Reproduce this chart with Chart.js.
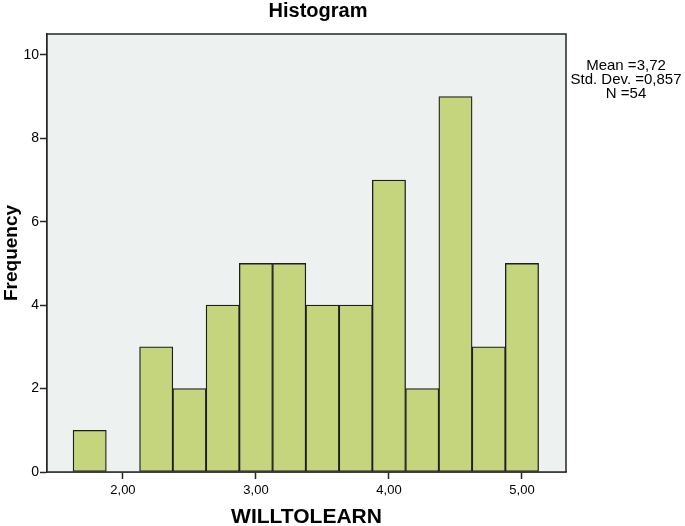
<!DOCTYPE html>
<html>
<head>
<meta charset="utf-8">
<script src="https://cdn.jsdelivr.net/npm/chart.js@4"></script>
<style>
  html, body { margin: 0; padding: 0; background: #ffffff; }
  #wrap { position: relative; width: 685px; height: 526px; }
</style>
</head>
<body>
<div id="wrap"><canvas id="c" width="685" height="526"></canvas></div>
<script>
// Data (bin centers, width 0.25)
const binCenters = [1.75, 2.00, 2.25, 2.50, 2.75, 3.00, 3.25, 3.50, 3.75, 4.00, 4.25, 4.50, 4.75, 5.00];
const frequencies = [1, 0, 3, 2, 4, 5, 5, 4, 4, 7, 2, 9, 3, 5];
const xTickValues = [2, 3, 4, 5];
const yTickValues = [0, 2, 4, 6, 8, 10];
const statsLines = ["Mean =3,72", "Std. Dev. =0,857", "N =54"];
const titleText = "Histogram";
const xTitle = "WILLTOLEARN";
const yTitle = "Frequency";

const FONT = "'Liberation Sans', Arial, Helvetica, sans-serif";

const decor = {
  id: 'decor',
  beforeDatasetsDraw(chart) {
    const { ctx, chartArea: a } = chart;
    ctx.save();
    ctx.fillStyle = '#edf1f0';
    ctx.fillRect(a.left, a.top, a.right - a.left, a.bottom - a.top);
    ctx.restore();
  },
  afterDraw(chart) {
    const { ctx, chartArea: a } = chart;
    ctx.save();
    ctx.strokeStyle = '#262626';
    ctx.lineWidth = 1.5;
    ctx.strokeRect(a.left, a.top, a.right - a.left, a.bottom - a.top);
    // title
    ctx.fillStyle = '#000';
    ctx.textAlign = 'center';
    ctx.textBaseline = 'middle';
    ctx.font = "bold 20px " + FONT;
    ctx.fillText(titleText, 318, 11);
    // stats
    ctx.font = "15px " + FONT;
    statsLines.forEach((s, i) => ctx.fillText(s, 626, 66 + i * 14));
    ctx.restore();
  }
};

const data = binCenters.map((x, i) => ({ x: x, y: frequencies[i] }));

new Chart(document.getElementById('c'), {
  type: 'bar',
  data: {
    datasets: [{
      data: data,
      backgroundColor: '#c4d57d',
      borderColor: '#1e1e1e',
      borderWidth: 1.3,
      borderSkipped: false,
      barPercentage: 1.0,
      categoryPercentage: 1.0
    }]
  },
  options: {
    responsive: false,
    animation: false,
    devicePixelRatio: 1,
    layout: { padding: { top: 34, right: 119, left: 0, bottom: 0 } },
    plugins: { legend: { display: false }, tooltip: { enabled: false }, title: { display: false } },
    scales: {
      x: {
        type: 'linear',
        min: 1.429,
        max: 5.331,
        offset: false,
        afterBuildTicks(scale) { scale.ticks = xTickValues.map(v => ({ value: v })); },
        afterFit(scale) { scale.height = 54; },
        ticks: {
          color: '#000',
          font: { family: FONT, size: 13 },
          padding: 4,
          maxRotation: 0,
          callback: v => v.toFixed(2).replace('.', ',')
        },
        grid: { offset: false, drawOnChartArea: false, drawTicks: true, tickLength: 7, tickColor: '#262626', tickWidth: 1.5 },
        border: { display: true, color: '#262626', width: 1.5 },
        title: {
          display: true, text: xTitle, color: '#000',
          font: { family: FONT, size: 21, weight: 'bold' },
          padding: { top: 0, bottom: -4 }
        }
      },
      y: {
        min: 0,
        max: 10.5,
        afterBuildTicks(scale) { scale.ticks = yTickValues.map(v => ({ value: v })); },
        afterFit(scale) { scale.width = 47; },
        ticks: {
          color: '#000',
          font: { family: FONT, size: 14 },
          padding: 1
        },
        grid: { offset: false, drawOnChartArea: false, drawTicks: true, tickLength: 7, tickColor: '#262626', tickWidth: 1.5 },
        border: { display: true, color: '#262626', width: 1.5 },
        title: {
          display: true, text: yTitle, color: '#000',
          font: { family: FONT, size: 19, weight: 'bold' },
          padding: { top: 0, bottom: 0 }
        }
      }
    }
  },
  plugins: [decor]
});
</script>
</body>
</html>
